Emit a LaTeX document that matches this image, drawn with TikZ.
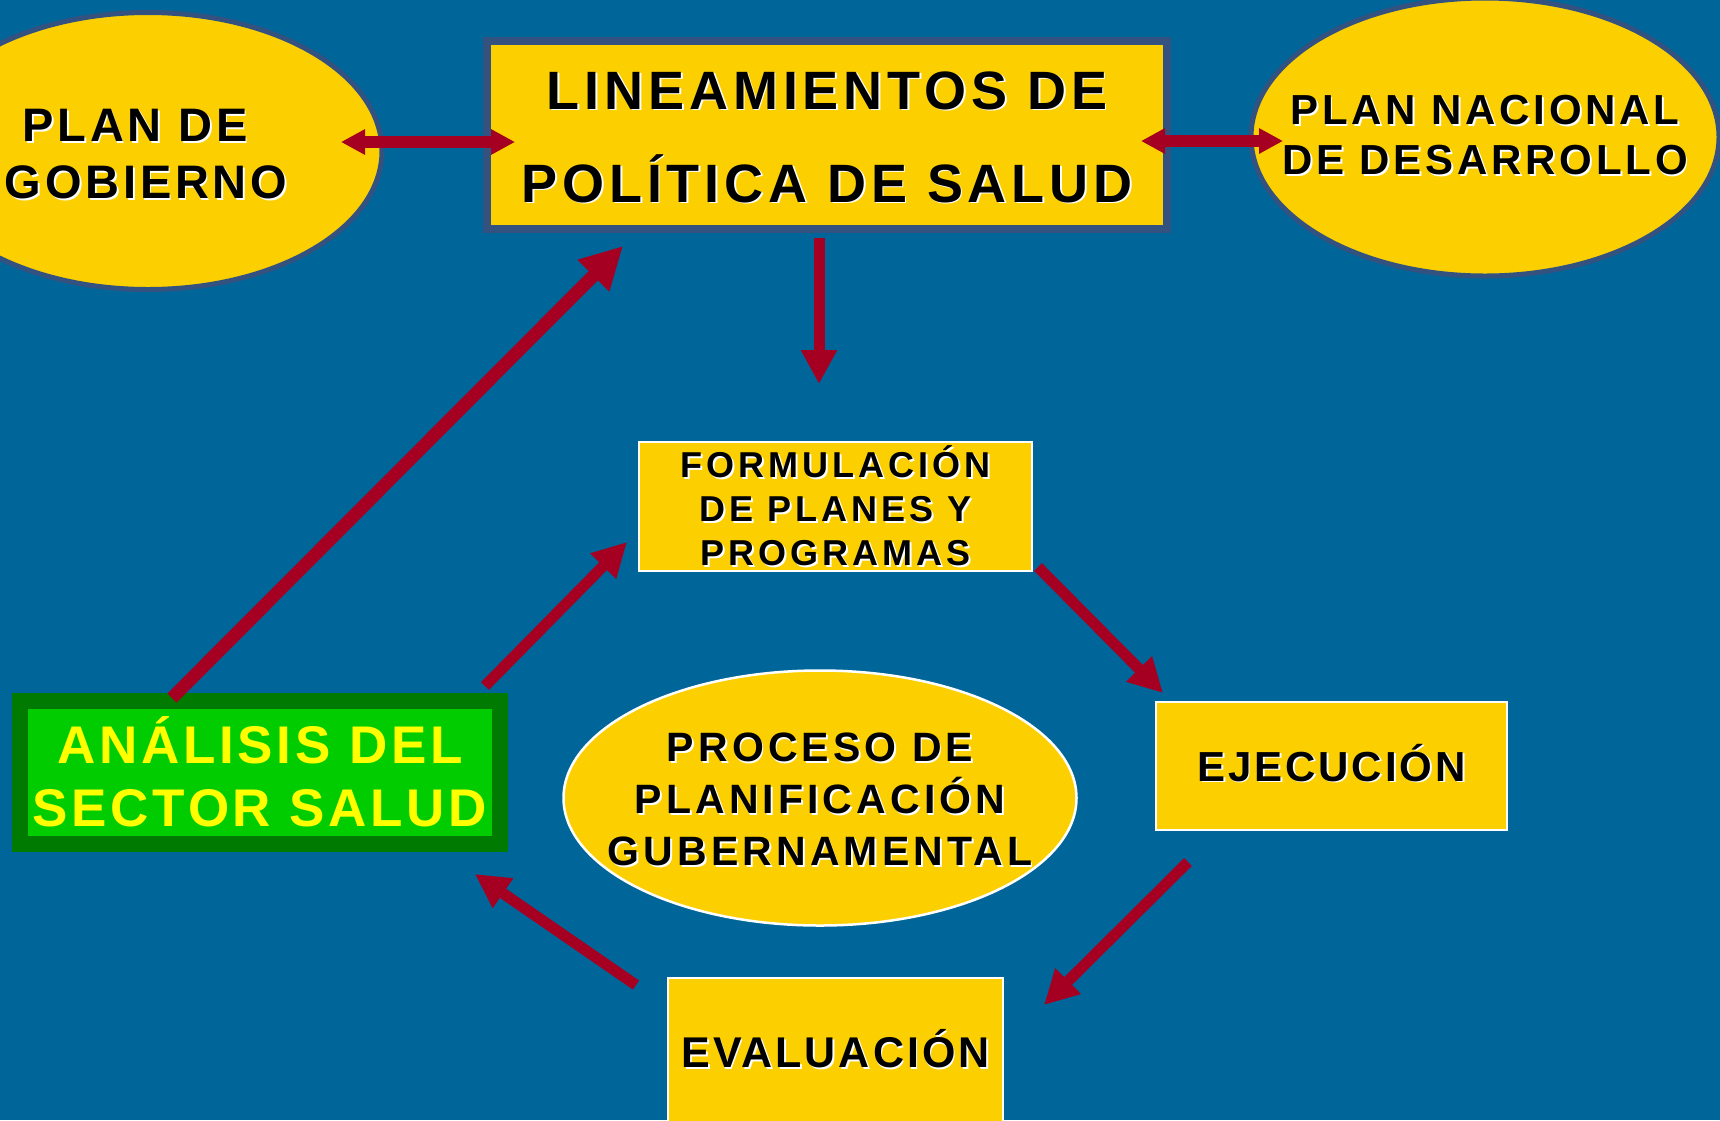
\documentclass[tikz,border=0pt]{standalone}
\usepackage{fontspec}
\setmainfont{Liberation Sans}
\newfontfamily\dfont{Liberation Sans}
\usetikzlibrary{arrows.meta,shapes.geometric}
\definecolor{bgblue}{RGB}{0,102,153}
\definecolor{ylw}{RGB}{252,208,0}
\definecolor{arrred}{RGB}{165,0,33}
\definecolor{slate}{RGB}{51,82,128}
\definecolor{gdark}{RGB}{0,122,0}
\definecolor{glight}{RGB}{0,204,0}
\definecolor{ytext}{RGB}{255,255,0}
\newcommand\shd[1]{\leavevmode\rlap{\kern1.8pt\raisebox{-1.8pt}{\color{white}#1}}#1}
\newcommand\fnt[3]{\dfont\bfseries\fontsize{#1}{#2}\selectfont\addfontfeature{LetterSpace=#3}}
\tikzset{
  ybox/.style={rectangle, fill=ylw, draw=white, line width=2.5pt, inner sep=0pt, align=center},
  yell/.style={ellipse, fill=ylw, inner sep=0pt},
  txt/.style={align=center, inner sep=0pt},
  redarr/.style={draw=arrred, line width=11pt, -{Triangle[length=34pt,width=34pt]}},
  dblarr/.style={draw=arrred, line width=12pt, {Triangle[length=24pt,width=24pt]}-{Triangle[length=24pt,width=24pt]}},
}
\begin{document}
\begin{tikzpicture}[x=1pt,y=-1pt]
\useasboundingbox (0,0) rectangle (1720,1120);
\clip (0,0) rectangle (1720,1120);
\fill[bgblue] (0,0) rectangle (1720,1120);

\node[yell, draw=slate, line width=5pt, minimum width=468pt, minimum height=277pt,
  label={[txt, font=\fnt{47}{57}{8}, yshift=-4pt, xshift=-2pt]center:{\shd{PLAN DE}\kern22pt\\\shd{GOBIERNO}}}] (pg) at (148,151) {};
\node[yell, draw=slate, line width=5pt, minimum width=468pt, minimum height=278pt,
  label={[txt, font=\fnt{42}{50}{9}, yshift=1pt]center:{\shd{PLAN NACIONAL}\\\shd{DE DESARROLLO}}}] (pn) at (1485,137) {};
\node[rectangle, fill=ylw, draw=slate, line width=8pt, minimum width=680pt, minimum height=188pt, inner sep=0pt,
  label={[txt, font=\fnt{54}{93}{9}, yshift=-3pt]center:{\shd{LINEAMIENTOS DE}\\\shd{POLÍTICA DE SALUD}}}] (lin) at (827,135) {};
\node[ybox, minimum width=393pt, minimum height=129pt, font=\fnt{36}{44}{11}] (form) at (835.5,506.5) {\shd{FORMULACIÓN}\\\shd{DE PLANES Y}\\\shd{PROGRAMAS}};
\node[yell, draw=white, line width=2.5pt, minimum width=513pt, minimum height=255pt,
  label={[txt, font=\fnt{41}{52}{10}, yshift=-2pt]center:{\shd{PROCESO DE}\\\shd{PLANIFICACIÓN}\\\shd{GUBERNAMENTAL}}}] (proc) at (820,798) {};
\node[ybox, minimum width=351pt, minimum height=128pt, font=\fnt{42}{50}{7}, text height=30pt, text depth=0pt] (eje) at (1331.5,766) {\shd{EJECUCIÓN}};
\node[ybox, minimum width=335pt, minimum height=148pt, font=\fnt{43}{50}{7}, text height=31pt, text depth=0pt] (eva) at (835.5,1052) {\shd{EVALUACIÓN}};
\node[rectangle, fill=glight, draw=gdark, line width=16pt, minimum width=480pt, minimum height=143pt, inner sep=0pt, align=center, text=ytext, font=\fnt{53}{63}{7}] (ana) at (260,772) {ANÁLISIS DEL\\SECTOR SALUD};

\coordinate (pgR) at (341,142);
\coordinate (linL) at (515,142);
\coordinate (linR) at (1141,141);
\coordinate (pnL) at (1283,141);
\coordinate (linS) at (819,238);
\coordinate (linD) at (819,384);
\coordinate (anaN) at (172,698);
\coordinate (linSW) at (623,246);
\coordinate (anaNE) at (485,686);
\coordinate (formW) at (627,542);
\coordinate (formSE) at (1038,567);
\coordinate (ejeNW) at (1163,693);
\coordinate (ejeSW) at (1188,862);
\coordinate (evaNE) at (1044,1005);
\coordinate (evaNW) at (636,985);
\coordinate (anaSE) at (475,874);

\draw[dblarr] (pgR) -- (linL);
\draw[dblarr] (linR) -- (pnL);
\draw[redarr] (linS) -- (linD);
\draw[redarr, line width=13pt, -{Triangle[length=42pt,width=42pt]}] (anaN) -- (linSW);
\draw[redarr] (anaNE) -- (formW);
\draw[redarr] (formSE) -- (ejeNW);
\draw[redarr] (ejeSW) -- (evaNE);
\draw[redarr] (evaNW) -- (anaSE);
\end{tikzpicture}
\end{document}
